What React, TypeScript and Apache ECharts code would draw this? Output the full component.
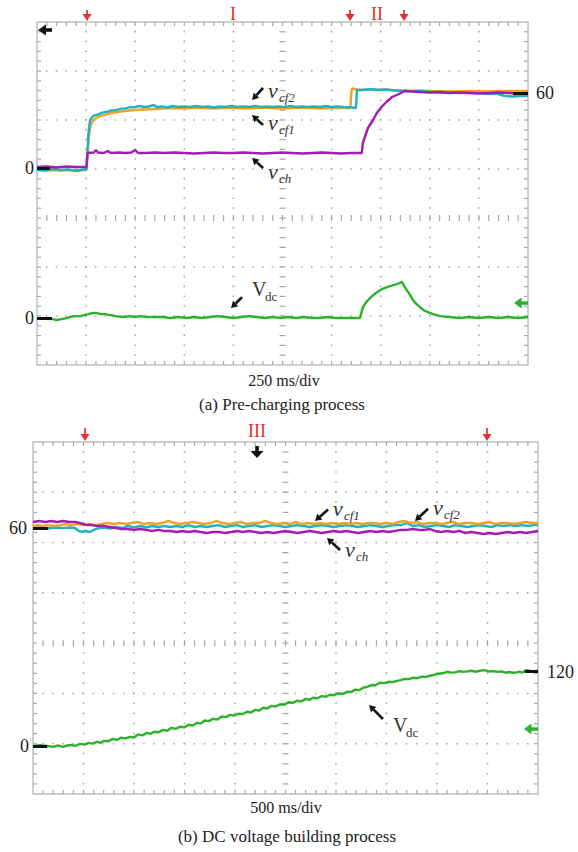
import { useEffect, useRef } from "react";
import * as echarts from "echarts";

type P = [number, number];

const SERIF = "'Liberation Serif','Times New Roman',serif";

// ---- axes (time in ms, 10 divisions; vertical screen = 7 divisions) ----
const TIME_A_MAX = 2500; // 250 ms/div
const TIME_B_MAX = 5000; // 500 ms/div
const DIVS_Y = 7;

// ---- captions / level labels ----
const captionA = "(a) Pre-charging process";
const captionB = "(b) DC voltage building process";
const scaleA = "250 ms/div";
const scaleB = "500 ms/div";
const levelLabelsA = ["0", "0", "60"]; // cap zero, Vdc zero, cap 60
const levelLabelsB = ["60", "0", "120"]; // cap 60, Vdc zero, Vdc 120

// ---- (a) pre-charging traces [t ms, V] ----
const vcf1A: P[] = [
  [0, -1.6], [40, -2.4], [80, -1.6], [120, -2.0], [160, -1.6], [200, -2.4], [240, -1.6], [252, -1.6],
  [258, 12], [264, 25], [272, 34], [285, 38], [300, 40], [321, 41.5], [356, 43], [380, 44], [407, 44.8],
  [448, 45.6], [499, 46.4], [550, 46.8], [600, 47.2], [650, 47.6], [700, 48.0], [750, 47.6], [800, 48.4],
  [850, 48.0], [900, 47.6], [950, 48.0], [1000, 48.4], [1050, 47.6], [1100, 48.0], [1150, 48.4], [1200, 48.0],
  [1250, 47.6], [1300, 48.0], [1350, 48.4], [1400, 48.0], [1450, 47.6], [1500, 48.0], [1550, 48.0], [1596, 48.0],
  [1600, 60], [1605, 64], [1615, 63.2], [1640, 62.4], [1680, 62.8], [1720, 62.4], [1760, 62.8], [1800, 62.4],
  [1850, 62.0], [1900, 61.6], [1950, 62.0], [2000, 61.6], [2100, 61.2], [2200, 61.6], [2300, 61.2], [2400, 61.6],
  [2500, 61.6],
];
const vcf2A: P[] = [
  [0, -1.2], [40, -1.6], [80, -0.8], [120, -1.6], [160, -1.2], [200, -2.0], [240, -1.2], [252, -1.2],
  [257, 14], [262, 28], [270, 38], [280, 40.5], [290, 42], [305, 42.5], [321, 43.5], [338, 44.5], [356, 45],
  [380, 46], [407, 46.5], [430, 47.5], [448, 47.5], [470, 48.5], [499, 48.8], [520, 49.6], [545, 48.8],
  [570, 49.2], [595, 50.4], [610, 48.8], [640, 49.2], [665, 48.4], [690, 49.6], [720, 48.8], [750, 49.2],
  [780, 48.8], [810, 49.6], [840, 48.8], [870, 49.2], [900, 48.4], [930, 49.2], [960, 48.8], [990, 49.6],
  [1020, 48.8], [1050, 49.2], [1080, 48.8], [1110, 49.6], [1140, 48.8], [1170, 49.2], [1200, 48.8], [1230, 49.2],
  [1260, 48.8], [1290, 49.6], [1320, 48.8], [1350, 49.2], [1380, 48.8], [1410, 49.2], [1440, 48.8], [1470, 49.6],
  [1500, 48.8], [1530, 49.2], [1560, 48.8], [1600, 48.4], [1624, 48.0], [1629, 62.4], [1660, 62.4], [1700, 63.2],
  [1740, 62.4], [1780, 62.8], [1820, 62.0], [1873, 61.6], [1920, 61.2], [1960, 61.6], [2000, 60.8], [2050, 60.4],
  [2100, 60.8], [2150, 60.0], [2200, 60.4], [2255, 60.0], [2300, 59.2], [2340, 59.6], [2382, 57.6], [2420, 57.2],
  [2460, 57.6], [2500, 57.6],
];
const vchA: P[] = [
  [0, 0.8], [50, 1.2], [100, 0.4], [150, 1.2], [200, 0.8], [252, 0.8], [257, 12], [290, 12.4], [300, 14.4],
  [310, 12.4], [340, 12], [360, 13.6], [375, 12], [420, 12.4], [450, 12], [480, 12.4], [500, 14.4], [515, 12],
  [560, 12], [600, 12.4], [650, 12], [700, 12.4], [750, 12], [800, 11.6], [850, 12], [900, 12.4], [950, 12],
  [1000, 12], [1050, 12.4], [1100, 12], [1150, 11.6], [1200, 12], [1250, 12.4], [1300, 12], [1350, 11.6],
  [1400, 12], [1450, 12.4], [1500, 12], [1550, 11.6], [1600, 12], [1654, 12], [1659, 20], [1685, 32], [1710, 38],
  [1730, 44], [1755, 49], [1780, 53], [1810, 57], [1840, 59], [1873, 61.6], [1920, 61.2], [1950, 60.8],
  [2000, 60.4], [2050, 60.8], [2100, 60], [2150, 60.4], [2200, 60], [2250, 59.6], [2300, 60], [2350, 60.4],
  [2400, 60], [2450, 59.6], [2500, 60],
];
const vdcA: P[] = [
  [60, -1.7], [80, -1.7], [100, -3.3], [127, -1.7], [150, 0], [168, 1.7], [190, 3.3], [219, 3.3], [240, 5],
  [260, 6.6], [280, 8.3], [305, 8.3], [325, 6.6], [346, 6.6], [372, 5], [400, 3.3], [438, 1.7], [470, 3.3],
  [500, 1.7], [524, 3.3], [560, 1.7], [600, 1.7], [641, 1.7], [680, 0], [720, 1.7], [760, 0], [800, 1.7],
  [840, 0], [880, 1.7], [920, 3.3], [960, 1.7], [1000, 0], [1040, 1.7], [1080, 3.3], [1120, 1.7], [1160, 0],
  [1200, 1.7], [1240, 0], [1280, 1.7], [1320, 0], [1360, 1.7], [1400, 0], [1440, 0], [1480, 1.7], [1520, 0],
  [1560, 0], [1600, 0], [1644, 0], [1659, 18], [1675, 26], [1695, 33], [1715, 39], [1731, 43], [1755, 48],
  [1782, 51.5], [1805, 54], [1832, 56.5], [1845, 58], [1858, 60], [1870, 53], [1883, 46.5], [1900, 38],
  [1914, 30], [1930, 24], [1950, 18], [1970, 13], [1990, 10], [2020, 6], [2051, 3.3], [2100, 1.7], [2153, 0],
  [2200, 1.7], [2250, 0], [2300, 1.7], [2350, 0], [2400, 1.7], [2450, 0], [2500, 1.7],
];

// ---- (b) DC voltage building traces [t ms, V] ----
const vcf1B: P[] = [
  [0, 61.6], [50, 62.3], [100, 61.6], [150, 62.3], [200, 61.6], [260, 62.3], [320, 63.1], [380, 62.3], [440, 63.1],
  [500, 62.3], [560, 63.1], [620, 62.3], [680, 63.1], [740, 63.9], [800, 63.1], [860, 63.9], [920, 63.1],
  [980, 63.9], [1040, 64.7], [1100, 63.1], [1160, 63.9], [1220, 63.1], [1280, 63.9], [1340, 65.5], [1400, 63.9],
  [1460, 63.1], [1520, 63.9], [1580, 64.7], [1640, 63.9], [1700, 63.1], [1760, 63.9], [1820, 65.5], [1880, 63.9],
  [1940, 63.1], [2000, 63.9], [2060, 64.7], [2120, 63.1], [2180, 63.9], [2240, 63.9], [2300, 65.5], [2360, 63.9],
  [2420, 63.1], [2480, 63.9], [2540, 63.1], [2600, 64.7], [2660, 63.1], [2720, 63.9], [2780, 63.1], [2840, 63.9],
  [2900, 63.1], [2960, 63.9], [3020, 63.1], [3080, 63.9], [3140, 63.1], [3200, 63.9], [3260, 63.1], [3320, 63.9],
  [3380, 63.9], [3440, 63.1], [3500, 63.9], [3560, 63.1], [3620, 64.7], [3680, 65.5], [3740, 63.9], [3800, 64.7],
  [3860, 63.1], [3920, 63.9], [3980, 63.9], [4040, 63.1], [4100, 63.9], [4160, 64.7], [4220, 63.1], [4280, 63.9],
  [4340, 63.9], [4400, 63.1], [4460, 63.9], [4520, 64.7], [4580, 63.1], [4640, 63.9], [4700, 63.9], [4760, 63.1],
  [4820, 63.9], [4880, 64.7], [4940, 63.9], [5000, 63.9],
];
const vcf2B: P[] = [
  [0, 60], [60, 60.4], [120, 59.6], [180, 60], [240, 60.4], [300, 60], [360, 60.4], [416, 60], [450, 57.7],
  [480, 56.9], [520, 57.7], [564, 56.9], [600, 58.5], [650, 60], [700, 60.4], [760, 59.6], [820, 60.8], [880, 60],
  [940, 61.6], [1000, 60.4], [1060, 61.6], [1120, 60.4], [1180, 61.6], [1240, 60.8], [1300, 61.6], [1360, 60.8],
  [1420, 61.6], [1480, 60.8], [1540, 62.3], [1600, 60.8], [1660, 61.6], [1720, 60.8], [1780, 61.6], [1840, 62.3],
  [1900, 60.8], [1960, 61.6], [2020, 62.3], [2080, 60.8], [2140, 61.6], [2200, 62.3], [2260, 60.8], [2320, 61.6],
  [2380, 62.3], [2440, 61.6], [2500, 60.8], [2560, 61.6], [2620, 62.3], [2680, 61.6], [2740, 60.8], [2800, 61.6],
  [2860, 62.3], [2920, 61.6], [2980, 60.8], [3040, 61.6], [3100, 62.3], [3160, 61.6], [3220, 60.8], [3280, 61.6],
  [3340, 62.3], [3400, 61.6], [3460, 60.8], [3520, 61.6], [3580, 62.3], [3640, 62.3], [3700, 63.9], [3760, 61.6],
  [3820, 62.3], [3880, 60.8], [3940, 61.6], [4000, 62.3], [4060, 61.6], [4120, 60.8], [4180, 62.3], [4240, 61.6],
  [4300, 60.8], [4360, 61.6], [4420, 62.3], [4480, 61.6], [4540, 60.8], [4600, 62.3], [4660, 61.6], [4720, 62.3],
  [4780, 61.6], [4840, 62.3], [4900, 61.6], [4960, 62.3], [5000, 62.3],
];
const vchB: P[] = [
  [0, 64.7], [60, 65.5], [120, 64.7], [180, 65.5], [240, 64.7], [300, 65.5], [360, 64.7], [420, 64.7], [465, 63.9],
  [500, 63.1], [535, 62.3], [580, 62.3], [640, 61.6], [700, 61.6], [760, 60.8], [820, 60], [880, 59.2], [940, 59.2],
  [1000, 58.5], [1060, 59.2], [1120, 58.5], [1180, 57.7], [1240, 58.5], [1300, 57.7], [1360, 57.7], [1420, 56.9],
  [1480, 57.7], [1540, 56.9], [1600, 57.7], [1660, 56.9], [1720, 56.1], [1780, 56.9], [1840, 56.9], [1900, 56.1],
  [1960, 56.9], [2020, 57.7], [2080, 56.9], [2140, 57.7], [2200, 56.9], [2260, 56.1], [2320, 56.9], [2380, 56.1],
  [2440, 56.9], [2500, 57.7], [2560, 56.9], [2620, 56.1], [2680, 56.9], [2740, 57.7], [2800, 56.9], [2860, 56.1],
  [2920, 56.9], [2980, 57.7], [3040, 56.9], [3100, 57.7], [3160, 56.9], [3220, 56.1], [3280, 56.9], [3340, 57.7],
  [3400, 56.9], [3460, 57.7], [3520, 56.9], [3580, 57.7], [3640, 58.5], [3700, 58.5], [3762, 59.2], [3820, 58.5],
  [3880, 58.5], [3930, 59.2], [3980, 57.7], [4040, 56.9], [4100, 57.7], [4160, 56.9], [4220, 57.7], [4280, 56.1],
  [4340, 56.9], [4400, 56.1], [4460, 55.3], [4520, 56.1], [4580, 55.3], [4640, 56.1], [4700, 56.9], [4760, 56.1],
  [4820, 56.9], [4880, 56.1], [4940, 56.9], [5000, 57.7],
];
const vdcB: P[] = [
  [0, 0], [70, 1], [139, 0], [200, -1.6], [250, 0.8], [297, -1.6], [340, 0.5], [380, 1.6], [420, 0], [465, 3.2],
  [510, 2], [550, 4.8], [590, 3.5], [634, 6.5], [670, 5], [700, 8.1], [745, 7.5], [792, 11.3], [830, 9.5],
  [870, 13], [915, 12], [960, 14.6], [1000, 13.5], [1040, 18.5], [1085, 17], [1129, 21.1], [1165, 19.5],
  [1200, 22.7], [1245, 22], [1287, 25.9], [1330, 24.5], [1370, 29.2], [1410, 27.5], [1455, 30.8], [1500, 30],
  [1540, 34.1], [1580, 33], [1624, 37.3], [1660, 36], [1700, 41], [1740, 40], [1782, 43.8], [1825, 42.5],
  [1870, 47.5], [1910, 46.5], [1950, 50.2], [1990, 49], [2030, 52], [2075, 51.5], [2119, 55.1], [2160, 54],
  [2200, 58.3], [2240, 57], [2277, 61.6], [2320, 60.5], [2360, 64.8], [2400, 63.5], [2445, 67.3], [2490, 66.5],
  [2530, 70.5], [2570, 69.5], [2614, 72.9], [2655, 72], [2700, 76], [2735, 74.5], [2772, 77.8], [2815, 77],
  [2860, 80.5], [2900, 79.5], [2940, 82.7], [2980, 82], [3020, 85.1], [3065, 84], [3109, 87.5], [3150, 87],
  [3190, 91], [3230, 90], [3267, 94], [3310, 95.5], [3350, 98.5], [3390, 98], [3435, 102.1], [3475, 101.5],
  [3520, 103.7], [3560, 103], [3604, 105.3], [3640, 106.5], [3680, 108.5], [3720, 108], [3762, 110.2],
  [3805, 109.5], [3850, 112], [3890, 111.5], [3930, 113.5], [3970, 115], [4010, 116.7], [4055, 117.5],
  [4099, 119.9], [4140, 118.5], [4180, 119], [4220, 121], [4257, 119.9], [4300, 120.5], [4340, 121.6],
  [4380, 120], [4425, 121.6], [4470, 122.5], [4510, 120.5], [4550, 121], [4594, 119.9], [4640, 120.5],
  [4680, 118.3], [4715, 119.5], [4752, 118.3], [4790, 119], [4820, 119.9], [4850, 118.5], [4871, 121.6],
  [4900, 122.5], [4930, 120.5], [4965, 121], [5000, 121.6],
];

// ---- styles ----
const C_ORANGE = "#f0a227";
const C_CYAN = "#1eb3c2";
const C_PURPLE = "#a31db3";
const C_GREEN = "#2bb12b";
const C_RED = "#e2302c";
const TRACE_W = 2.4;

// ---- annotation layout (in data units of each panel) ----
type Lbl = { at: P; tail: P; head: P; main: string; sub: string; italic: boolean };
const labelsCapsA: Lbl[] = [
  { main: "v", sub: "cf2", italic: true, at: [1176, 60.8], tail: [1151, 64], head: [1095, 54.4] },
  { main: "v", sub: "cf1", italic: true, at: [1176, 35.2], tail: [1151, 34.4], head: [1095, 42.4] },
  { main: "v", sub: "ch", italic: true, at: [1176, -4], tail: [1151, 0], head: [1095, 8] },
];
const labelsDcA: Lbl[] = [
  { main: "V", sub: "dc", italic: false, at: [1095, 44.9], tail: [1044, 34.9], head: [988, 16.6] },
];
const labelsCapsB: Lbl[] = [
  { main: "v", sub: "cf1", italic: true, at: [2970, 73.5], tail: [2921, 74.5], head: [2792, 65.5] },
  { main: "v", sub: "cf2", italic: true, at: [3960, 74.5], tail: [3911, 75], head: [3782, 65.5] },
  { main: "v", sub: "ch", italic: true, at: [3089, 41.3], tail: [3040, 42.8], head: [2911, 52.2] },
];
const labelsDcB: Lbl[] = [
  { main: "V", sub: "dc", italic: false, at: [3564, 30.4], tail: [3465, 43.4], head: [3327, 66.1] },
];

type Mark = { t: number; kind: "red" | "roman" | "blackLeft" | "blackDown"; text?: string };
const marksA: Mark[] = [
  { t: 255, kind: "red" }, { t: 1594, kind: "red" }, { t: 1869, kind: "red" },
  { t: 998, kind: "roman", text: "I" }, { t: 1731, kind: "roman", text: "II" },
  { t: 0, kind: "blackLeft" },
];
const marksB: Mark[] = [
  { t: 515, kind: "red" }, { t: 4495, kind: "red" },
  { t: 2218, kind: "roman", text: "III" }, { t: 2218, kind: "blackDown" },
];
const greenMarkA: P = [TIME_A_MAX, 24.9];
const greenMarkB: P = [TIME_B_MAX, 27.2];

function graticule(xi: number, yi: number, tmax: number) {
  return {
    type: "custom",
    xAxisIndex: xi,
    yAxisIndex: yi,
    silent: true,
    clip: false,
    z: 0,
    data: [[0, 0]],
    renderItem: (_p: any, api: any) => {
      const bl = api.coord([0, 0]);
      const tr = api.coord([tmax, DIVS_Y]);
      const L = bl[0], B = bl[1], R = tr[0], T = tr[1];
      const dx = (R - L) / 10, dy = (B - T) / DIVS_Y;
      const mx = dx / 5, my = dy / 5;
      const Xc = L + 5 * dx, Yc = T + 4 * dy;
      const ch: any[] = [];
      const ln = (x1: number, y1: number, x2: number, y2: number, stroke: string, w: number, dash?: number[]) =>
        ch.push({
          type: "line",
          shape: { x1, y1, x2, y2 },
          style: dash ? { stroke, lineWidth: w, lineDash: dash, lineDashOffset: 0.75 } : { stroke, lineWidth: w },
        });
      const DOT = "#aaaaaa", TICK = "#a6a6a6";
      for (let i = 1; i < 10; i++) {
        if (i === 5) continue;
        const x = L + i * dx;
        ln(x, T, x, B, DOT, 1.6, [1.6, my - 1.6]);
      }
      for (let j = 1; j < DIVS_Y; j++) {
        if (j === 4) continue;
        const y = T + j * dy;
        ln(L, y, R, y, DOT, 1.6, [1.6, mx - 1.6]);
      }
      for (let k = 1; k < 50; k++) {
        const x = L + k * mx;
        ln(x, T, x, T + 4, TICK, 1.2);
        ln(x, B - 4, x, B, TICK, 1.2);
        ln(x, Yc - 3, x, Yc + 3, TICK, 1.2);
      }
      for (let k = 1; k < DIVS_Y * 5; k++) {
        const y = T + k * my;
        ln(L, y, L + 4, y, TICK, 1.2);
        ln(R - 4, y, R, y, TICK, 1.2);
        ln(Xc - 3, y, Xc + 3, y, TICK, 1.2);
      }
      ch.push({
        type: "rect",
        shape: { x: L, y: T, width: R - L, height: B - T },
        style: { fill: "none", stroke: "#c0c0c0", lineWidth: 1.5 },
      });
      return { type: "group", children: ch };
    },
  };
}

function textStyle(text: string, font: string, fill: string, align: string, valign: string) {
  return { text, font, fill, align, textAlign: align, verticalAlign: valign, textVerticalAlign: valign };
}

function labelSeries(xi: number, yi: number, items: Lbl[]) {
  return {
    type: "custom",
    xAxisIndex: xi,
    yAxisIndex: yi,
    silent: true,
    clip: false,
    z: 10,
    data: items.map((it) => [it.at[0], it.at[1], it.tail[0], it.tail[1], it.head[0], it.head[1]]),
    renderItem: (params: any, api: any) => {
      const it = items[params.dataIndex];
      const a = api.coord([api.value(0), api.value(1)]);
      const tl = api.coord([api.value(2), api.value(3)]);
      const hd = api.coord([api.value(4), api.value(5)]);
      const ang = Math.atan2(hd[1] - tl[1], hd[0] - tl[0]);
      const HL = 6.5, HW = 3.8;
      const bx = hd[0] - HL * Math.cos(ang), by = hd[1] - HL * Math.sin(ang);
      const px = -Math.sin(ang) * HW, py = Math.cos(ang) * HW;
      const st = it.italic ? "italic " : "";
      const mainSize = it.italic ? 22 : 20;
      return {
        type: "group",
        children: [
          { type: "line", shape: { x1: tl[0], y1: tl[1], x2: bx, y2: by }, style: { stroke: "#111", lineWidth: 2.6 } },
          {
            type: "polygon",
            shape: { points: [[hd[0], hd[1]], [bx + px, by + py], [bx - px, by - py]] },
            style: { fill: "#111" },
          },
          {
            type: "text",
            x: a[0],
            y: a[1] - 2,
            style: textStyle(it.main, `${st}${mainSize}px ${SERIF}`, "#333", "left", "middle"),
          },
          {
            type: "text",
            x: a[0] + (it.italic ? 11 : 13),
            y: a[1] + 5,
            style: textStyle(it.sub, `${st}13px ${SERIF}`, "#333", "left", "middle"),
          },
        ],
      };
    },
  };
}

function markSeries(xi: number, yi: number, items: Mark[], arrowLen: number, romanDy: number) {
  return {
    type: "custom",
    xAxisIndex: xi,
    yAxisIndex: yi,
    silent: true,
    clip: false,
    z: 10,
    data: items.map((m) => [m.t, DIVS_Y]),
    renderItem: (params: any, api: any) => {
      const m = items[params.dataIndex];
      const p = api.coord([api.value(0), api.value(1)]);
      const x = p[0], T = p[1];
      if (m.kind === "red") {
        const tip = T - 1;
        return {
          type: "group",
          children: [
            { type: "line", shape: { x1: x, y1: tip - arrowLen, x2: x, y2: tip - 5 }, style: { stroke: C_RED, lineWidth: 1.7 } },
            { type: "polygon", shape: { points: [[x - 4.5, tip - 7], [x + 4.5, tip - 7], [x, tip]] }, style: { fill: C_RED } },
          ],
        };
      }
      if (m.kind === "roman") {
        return { type: "text", x, y: T + romanDy, style: textStyle(m.text || "", `18px ${SERIF}`, C_RED, "center", "middle") };
      }
      if (m.kind === "blackLeft") {
        const y = T + 8, L = x + 1;
        return {
          type: "group",
          children: [
            { type: "polygon", shape: { points: [[L, y], [L + 8, y - 5.5], [L + 8, y + 5.5]] }, style: { fill: "#111" } },
            { type: "rect", shape: { x: L + 7, y: y - 1.8, width: 7, height: 3.6 }, style: { fill: "#111" } },
          ],
        };
      }
      return {
        type: "group",
        children: [
          { type: "rect", shape: { x: x - 1.8, y: T + 4, width: 3.6, height: 6 }, style: { fill: "#111" } },
          { type: "polygon", shape: { points: [[x - 6.5, T + 9], [x + 6.5, T + 9], [x, T + 16]] }, style: { fill: "#111" } },
        ],
      };
    },
  };
}

function greenMarker(xi: number, yi: number, pos: P) {
  return {
    type: "custom",
    xAxisIndex: xi,
    yAxisIndex: yi,
    silent: true,
    clip: false,
    z: 10,
    data: [pos],
    renderItem: (_p: any, api: any) => {
      const c = api.coord([api.value(0), api.value(1)]);
      const R = c[0], y = c[1];
      const tip = R - 14;
      return {
        type: "group",
        children: [
          { type: "polygon", shape: { points: [[tip, y], [tip + 7.5, y - 5.5], [tip + 7.5, y + 5.5]] }, style: { fill: C_GREEN } },
          { type: "rect", shape: { x: tip + 7, y: y - 1.7, width: 7, height: 3.4 }, style: { fill: C_GREEN } },
        ],
      };
    },
  };
}

function trace(name: string, data: P[], color: string, xi: number, yi: number, extra: any = {}) {
  return {
    type: "line",
    name,
    data,
    xAxisIndex: xi,
    yAxisIndex: yi,
    showSymbol: false,
    symbol: "none",
    clip: false,
    silent: true,
    z: 2,
    lineStyle: { color, width: TRACE_W },
    itemStyle: { color },
    emphasis: { disabled: true },
    ...extra,
  };
}

function refLevels(lines: { from: number; to: number; v: number; text: string; pos: string; dist: number }[]) {
  return {
    markLine: {
      symbol: ["none", "none"],
      silent: true,
      animation: false,
      lineStyle: { color: "#111", width: 3, type: "solid" },
      emphasis: { disabled: true },
      label: { show: true, color: "#222", fontSize: 18, fontFamily: SERIF },
      data: lines.map((l) => [
        { coord: [l.from, l.v], label: { show: true, formatter: l.text, position: l.pos, distance: l.dist } },
        { coord: [l.to, l.v] },
      ]),
    },
  };
}

function buildOption(): any {
  const hidden = { show: false };
  return {
    animation: false,
    backgroundColor: "#ffffff",
    grid: [
      { left: 37, top: 22, width: 491, height: 343 },
      { left: 33, top: 442, width: 505, height: 352 },
    ],
    xAxis: [
      { type: "value", gridIndex: 0, min: 0, max: TIME_A_MAX, ...hidden },
      { type: "value", gridIndex: 1, min: 0, max: TIME_B_MAX, ...hidden },
    ],
    yAxis: [
      { type: "value", gridIndex: 0, min: 0, max: DIVS_Y, ...hidden },
      { type: "value", gridIndex: 0, min: -157.6, max: 116.8, ...hidden },
      { type: "value", gridIndex: 0, min: -78, max: 492, ...hidden },
      { type: "value", gridIndex: 1, min: 0, max: DIVS_Y, ...hidden },
      { type: "value", gridIndex: 1, min: -147.8, max: 127.2, ...hidden },
      { type: "value", gridIndex: 1, min: -78, max: 492, ...hidden },
    ],
    graphic: [
      { type: "text", x: 284, y: 380, style: textStyle(scaleA, `16px ${SERIF}`, "#222", "center", "middle") },
      { type: "text", x: 282, y: 404, style: textStyle(captionA, `17px ${SERIF}`, "#222", "center", "middle") },
      { type: "text", x: 286, y: 807, style: textStyle(scaleB, `16px ${SERIF}`, "#222", "center", "middle") },
      { type: "text", x: 287, y: 836, style: textStyle(captionB, `17px ${SERIF}`, "#222", "center", "middle") },
    ],
    series: [
      graticule(0, 0, TIME_A_MAX),
      graticule(1, 3, TIME_B_MAX),
      // (a)
      trace("vcf1", vcf1A, C_ORANGE, 0, 1),
      trace("vcf2", vcf2A, C_CYAN, 0, 1,
        refLevels([
          { from: 0, to: 66, v: 0, text: levelLabelsA[0], pos: "start", dist: 3 },
          { from: 2425, to: TIME_A_MAX, v: 60, text: levelLabelsA[2], pos: "end", dist: 8 },
        ])),
      trace("vch", vchA, C_PURPLE, 0, 1),
      trace("Vdc", vdcA, C_GREEN, 0, 2,
        refLevels([{ from: 0, to: 76, v: 0, text: levelLabelsA[1], pos: "start", dist: 3 }])),
      // (b)
      trace("vcf2", vcf2B, C_CYAN, 1, 4),
      trace("vcf1", vcf1B, C_ORANGE, 1, 4,
        refLevels([{ from: 0, to: 150, v: 60, text: levelLabelsB[0], pos: "start", dist: 6 }])),
      trace("vch", vchB, C_PURPLE, 1, 4),
      trace("Vdc", vdcB, C_GREEN, 1, 5,
        refLevels([
          { from: 0, to: 140, v: 0, text: levelLabelsB[1], pos: "start", dist: 4 },
          { from: 4870, to: TIME_B_MAX, v: 120, text: levelLabelsB[2], pos: "end", dist: 9 },
        ])),
      // annotations
      labelSeries(0, 1, labelsCapsA),
      labelSeries(0, 2, labelsDcA),
      labelSeries(1, 4, labelsCapsB),
      labelSeries(1, 5, labelsDcB),
      markSeries(0, 0, marksA, 11, -8),
      markSeries(1, 3, marksB, 13, -11),
      greenMarker(0, 2, greenMarkA),
      greenMarker(1, 5, greenMarkB),
    ],
  };
}

export default function App() {
  const ref = useRef<HTMLDivElement>(null);
  useEffect(() => {
    if (!ref.current) return;
    const chart = echarts.init(ref.current, null, { renderer: "svg" });
    chart.setOption(buildOption());
    return () => chart.dispose();
  }, []);
  return (
    <div
      ref={ref}
      style={{ position: "fixed", left: 0, top: 0, width: 578, height: 852, background: "#fff" }}
    />
  );
}
